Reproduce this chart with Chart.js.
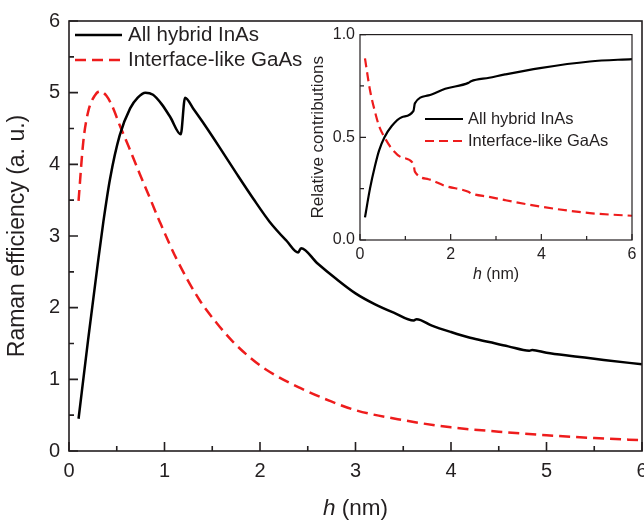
<!DOCTYPE html>
<html>
<head>
<meta charset="utf-8">
<script src="https://cdn.jsdelivr.net/npm/chart.js@4.4.0/dist/chart.umd.min.js"></script>
<style>
  html, body { margin: 0; padding: 0; background: #fff; }
  #wrap { position: relative; width: 644px; height: 523px; }
  #mainChart { position: absolute; left: 0; top: 0; }
  #insetChart { position: absolute; left: 305px; top: 20px; }
</style>
</head>
<body>
<div id="wrap">
  <canvas id="mainChart" width="644" height="523"></canvas>
  <canvas id="insetChart" width="335" height="270"></canvas>
</div>
<script>
// main panel: Raman efficiency vs h
const hInAs = [0.10, 0.20, 0.30, 0.36, 0.43, 0.53, 0.64, 0.72, 0.80, 0.88, 0.97, 1.06, 1.17, 1.215, 1.30, 1.40, 1.58, 1.76, 1.93, 2.10, 2.28, 2.40, 2.43, 2.60, 2.80, 3.00, 3.20, 3.40, 3.61, 3.64, 3.80, 4.00, 4.20, 4.40, 4.60, 4.82, 4.85, 5.00, 5.30, 5.60, 6.00];
const effInAs = [0.45, 1.55, 2.60, 3.20, 3.80, 4.40, 4.78, 4.93, 5.00, 4.97, 4.84, 4.66, 4.42, 4.93, 4.78, 4.59, 4.23, 3.86, 3.52, 3.20, 2.93, 2.77, 2.83, 2.62, 2.40, 2.20, 2.05, 1.93, 1.82, 1.84, 1.75, 1.66, 1.58, 1.52, 1.46, 1.40, 1.41, 1.37, 1.32, 1.27, 1.21];

const hGaAs = [0.10, 0.15, 0.20, 0.27, 0.325, 0.39, 0.45, 0.53, 0.63, 0.74, 0.85, 0.95, 1.13, 1.37, 1.55, 1.72, 1.90, 2.07, 2.42, 2.73, 3.00, 3.50, 4.00, 4.50, 5.00, 5.50, 6.00];
const effGaAs = [3.49, 4.32, 4.73, 4.96, 5.02, 4.96, 4.82, 4.55, 4.23, 3.87, 3.52, 3.20, 2.67, 2.10, 1.78, 1.52, 1.30, 1.13, 0.88, 0.70, 0.57, 0.43, 0.33, 0.27, 0.22, 0.18, 0.15];

// inset: relative contributions
const hRel = [0.11, 0.22, 0.33, 0.42, 0.54, 0.70, 0.92, 1.18, 1.21, 1.51, 1.88, 2.39, 2.45, 2.85, 3.20, 3.97, 5.07, 6.00];
const relInAs = [0.11, 0.25, 0.36, 0.435, 0.50, 0.555, 0.598, 0.629, 0.665, 0.704, 0.736, 0.765, 0.773, 0.79, 0.806, 0.837, 0.869, 0.881];
const relGaAs = [0.884, 0.73, 0.625, 0.555, 0.50, 0.445, 0.402, 0.37, 0.333, 0.296, 0.263, 0.235, 0.227, 0.21, 0.194, 0.163, 0.131, 0.118];

const seriesNames = ['All hybrid InAs', 'Interface-like GaAs'];

// ticks
const mainXTicks = [0, 1, 2, 3, 4, 5, 6];
const mainXMinor = [0.5, 1.5, 2.5, 3.5, 4.5, 5.5];
const mainYTicks = [0, 1, 2, 3, 4, 5, 6];
const mainYMinor = [0.5, 1.5, 2.5, 3.5, 4.5, 5.5];
const insetXTicks = [0, 2, 4, 6];
const insetXMinor = [1, 3, 5];
const insetYTicks = [0, 0.5, 1.0];
const insetYMinor = [0.25, 0.75];

const FONT = '"Liberation Sans", Arial, Helvetica, sans-serif';
const INK = '#231f20';
const RED = '#ee1c1c';

const toPoints = (xs, ys) => xs.map((x, i) => ({ x: x, y: ys[i] }));

// frame, inward ticks, legend and x title (italic h)
function decor(o) {
  return {
    id: 'decor',
    afterDatasetsDraw(chart) {
      const ctx = chart.ctx;
      const a = chart.chartArea;
      const sx = chart.scales.x, sy = chart.scales.y;
      ctx.save();
      ctx.strokeStyle = INK;
      ctx.lineWidth = o.frameWidth;
      ctx.strokeRect(a.left, a.top, a.right - a.left, a.bottom - a.top);

      ctx.beginPath();
      o.xMajor.forEach(v => { const p = sx.getPixelForValue(v); ctx.moveTo(p, a.bottom); ctx.lineTo(p, a.bottom - o.major); });
      o.xMinor.forEach(v => { const p = sx.getPixelForValue(v); ctx.moveTo(p, a.bottom); ctx.lineTo(p, a.bottom - o.minor); });
      o.yMajor.forEach(v => { const p = sy.getPixelForValue(v); ctx.moveTo(a.left, p); ctx.lineTo(a.left + o.major, p); });
      o.yMinor.forEach(v => { const p = sy.getPixelForValue(v); ctx.moveTo(a.left, p); ctx.lineTo(a.left + o.minor, p); });
      ctx.stroke();

      // legend
      ctx.font = o.legendSize + 'px ' + FONT;
      ctx.textBaseline = 'middle';
      ctx.textAlign = 'left';
      chart.data.datasets.forEach((ds, i) => {
        const y = o.legendY + i * o.legendGap;
        ctx.save();
        ctx.strokeStyle = ds.borderColor;
        ctx.lineWidth = ds.borderWidth;
        ctx.setLineDash(ds.borderDash || []);
        ctx.beginPath();
        ctx.moveTo(o.legendX, y);
        ctx.lineTo(o.legendX + o.legendLen, y);
        ctx.stroke();
        ctx.restore();
        ctx.fillStyle = INK;
        ctx.fillText(ds.label, o.legendX + o.legendLen + o.legendTextGap, y);
      });

      // x axis title "h (nm)" with italic h
      const cx = (a.left + a.right) / 2;
      const ty = a.bottom + o.titleOffset;
      const fItal = 'italic ' + o.titleSize + 'px ' + FONT;
      const fReg = o.titleSize + 'px ' + FONT;
      ctx.font = fItal; const w1 = ctx.measureText('h').width;
      ctx.font = fReg; const w2 = ctx.measureText(' (nm)').width;
      const x0 = cx - (w1 + w2) / 2;
      ctx.fillStyle = INK;
      ctx.font = fItal; ctx.fillText('h', x0, ty);
      ctx.font = fReg; ctx.fillText(' (nm)', x0 + w1, ty);
      ctx.restore();
    }
  };
}

new Chart(document.getElementById('mainChart'), {
  type: 'line',
  data: {
    datasets: [
      { label: seriesNames[0], data: toPoints(hInAs, effInAs), borderColor: '#000', borderWidth: 2.5,
        pointRadius: 0, cubicInterpolationMode: 'monotone', fill: false },
      { label: seriesNames[1], data: toPoints(hGaAs, effGaAs), borderColor: RED, borderWidth: 2.5, borderDash: [11, 6],
        pointRadius: 0, cubicInterpolationMode: 'monotone', fill: false }
    ]
  },
  options: {
    responsive: false,
    animation: false,
    layout: { padding: { left: 0, right: 2, top: 15, bottom: 0 } },
    plugins: { legend: { display: false }, tooltip: { enabled: false } },
    scales: {
      x: {
        type: 'linear', min: 0, max: 6,
        grid: { display: false, drawTicks: false },
        border: { display: false },
        afterBuildTicks: s => { s.ticks = mainXTicks.map(v => ({ value: v })); },
        ticks: { color: INK, font: { size: 20, family: FONT }, padding: 8, maxRotation: 0 },
        afterFit: s => { s.height = 72; s.paddingLeft = 0; s.paddingRight = 0; }
      },
      y: {
        type: 'linear', min: 0, max: 6,
        grid: { display: false, drawTicks: false },
        border: { display: false },
        afterBuildTicks: s => { s.ticks = mainYTicks.map(v => ({ value: v })); },
        ticks: { color: INK, font: { size: 20, family: FONT }, padding: 9 },
        title: { display: true, text: 'Raman efficiency (a. u.)', color: INK,
                 font: { size: 23, family: FONT }, padding: { top: 4, bottom: 0 } },
        afterFit: s => { s.width = 69; }
      }
    }
  },
  plugins: [decor({
    frameWidth: 1.6, major: 9, minor: 5,
    xMajor: mainXTicks, xMinor: mainXMinor, yMajor: mainYTicks, yMinor: mainYMinor,
    legendX: 75, legendY: 35, legendGap: 25, legendLen: 47, legendTextGap: 6, legendSize: 20.5,
    titleOffset: 58, titleSize: 22.5
  })]
});

new Chart(document.getElementById('insetChart'), {
  type: 'line',
  data: {
    datasets: [
      { label: seriesNames[0], data: toPoints(hRel, relInAs), borderColor: '#000', borderWidth: 2.2,
        pointRadius: 0, cubicInterpolationMode: 'monotone', fill: false },
      { label: seriesNames[1], data: toPoints(hRel, relGaAs), borderColor: RED, borderWidth: 2.2, borderDash: [9, 5],
        pointRadius: 0, cubicInterpolationMode: 'monotone', fill: false }
    ]
  },
  options: {
    responsive: false,
    animation: false,
    layout: { padding: { left: 0, right: 8, top: 7, bottom: 0 } },
    plugins: { legend: { display: false }, tooltip: { enabled: false } },
    scales: {
      x: {
        type: 'linear', min: 0, max: 6,
        grid: { display: false, drawTicks: false },
        border: { display: false },
        afterBuildTicks: s => { s.ticks = insetXTicks.map(v => ({ value: v })); },
        ticks: { color: INK, font: { size: 16, family: FONT }, padding: 5, maxRotation: 0 },
        afterFit: s => { s.height = 50; s.paddingLeft = 0; s.paddingRight = 0; }
      },
      y: {
        type: 'linear', min: 0, max: 1,
        grid: { display: false, drawTicks: false },
        border: { display: false },
        afterBuildTicks: s => { s.ticks = insetYTicks.map(v => ({ value: v })); },
        ticks: { color: INK, font: { size: 16, family: FONT }, padding: 5,
                 callback: v => Number(v).toFixed(1) },
        title: { display: true, text: 'Relative contributions', color: INK,
                 font: { size: 17, family: FONT }, padding: { top: 3, bottom: 0 } },
        afterFit: s => { s.width = 55; }
      }
    }
  },
  plugins: [decor({
    frameWidth: 1.2, major: 6, minor: 4,
    xMajor: insetXTicks, xMinor: insetXMinor, yMajor: insetYTicks, yMinor: insetYMinor,
    legendX: 120, legendY: 99, legendGap: 22, legendLen: 38, legendTextGap: 5, legendSize: 16.5,
    titleOffset: 35, titleSize: 16
  })]
});
</script>
</body>
</html>
